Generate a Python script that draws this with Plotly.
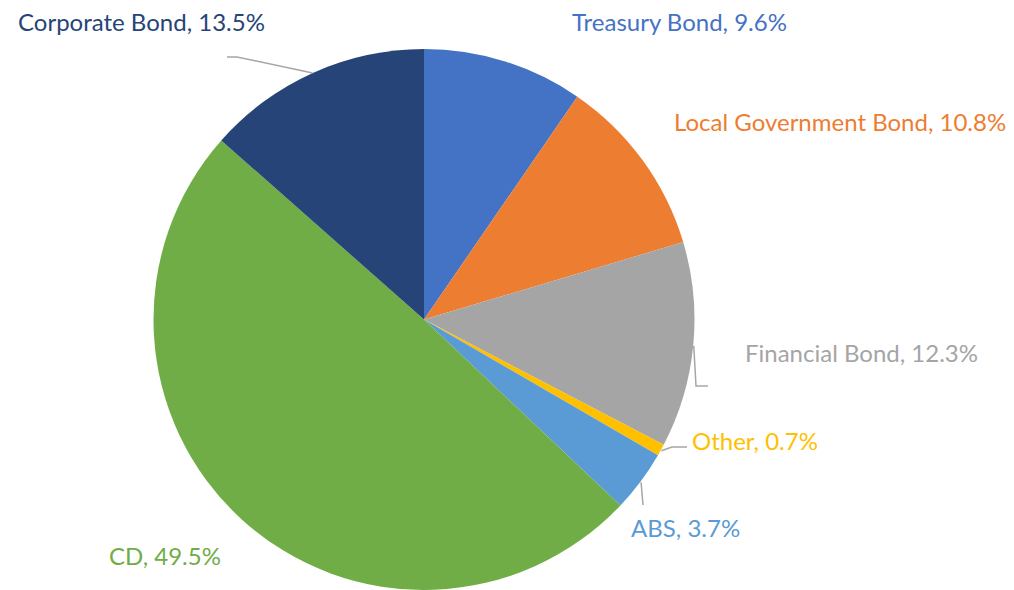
import math
import plotly.graph_objects as go

categories = ["Treasury Bond", "Local Government Bond", "Financial Bond", "Other", "ABS", "CD", "Corporate Bond"]
shares = [9.6, 10.8, 12.3, 0.7, 3.7, 49.5, 13.5]
colors = ["#4472C4", "#ED7D31", "#A5A5A5", "#FFC000", "#5B9BD5", "#70AD47", "#264478"]

W, H = 1014, 590
CX, CY, R = 424, 320, 271
FONT = "Lato"

# label placement (text centre in pixels) and leader-line elbows
label_pos = {
    "Treasury Bond": (679, 22, None),
    "Local Government Bond": (840, 122, None),
    "Financial Bond": (861, 352, [(696, 386), (708, 386)]),
    "Other": (755, 440, [(672, 447), (687, 447)]),
    "ABS": (685, 527, [(643, 505)]),
    "CD": (165, 555, None),
    "Corporate Bond": (141, 22, [(237, 57), (227, 57)]),
}

fig = go.Figure(go.Pie(
    labels=categories, values=shares, sort=False, direction="clockwise", rotation=0,
    marker=dict(colors=colors, line=dict(width=0)), textinfo="none", hoverinfo="label+percent",
    domain=dict(x=[(CX - R) / W, (CX + R) / W], y=[0, (H - (CY - R)) / H]),
    showlegend=False,
))

total = sum(shares)
cum = 0.0
for name, val, col in zip(categories, shares, colors):
    mid = (cum + val / 2) / total * 2 * math.pi
    cum += val
    ex = CX + R * math.sin(mid)
    ey = CY - R * math.cos(mid)
    tx, ty, elbows = label_pos[name]
    fig.add_annotation(x=tx / W, y=1 - ty / H, xref="paper", yref="paper",
                       text=f"{name}, {val:.1f}%", showarrow=False,
                       font=dict(family=FONT, size=24, color=col),
                       xanchor="center", yanchor="middle")
    if elbows:
        pts = [(ex, ey)] + elbows
        path = "M " + " L ".join(f"{px / W},{1 - py / H}" for px, py in pts)
        fig.add_shape(type="path", path=path, xref="paper", yref="paper",
                      line=dict(color="#A6A6A6", width=1.5))

fig.update_layout(width=W, height=H, margin=dict(l=0, r=0, t=0, b=0),
                  paper_bgcolor="white", plot_bgcolor="white")
fig.write_html("out.html", config={"displayModeBar": False},
               post_script="document.body.style.margin='0';")
